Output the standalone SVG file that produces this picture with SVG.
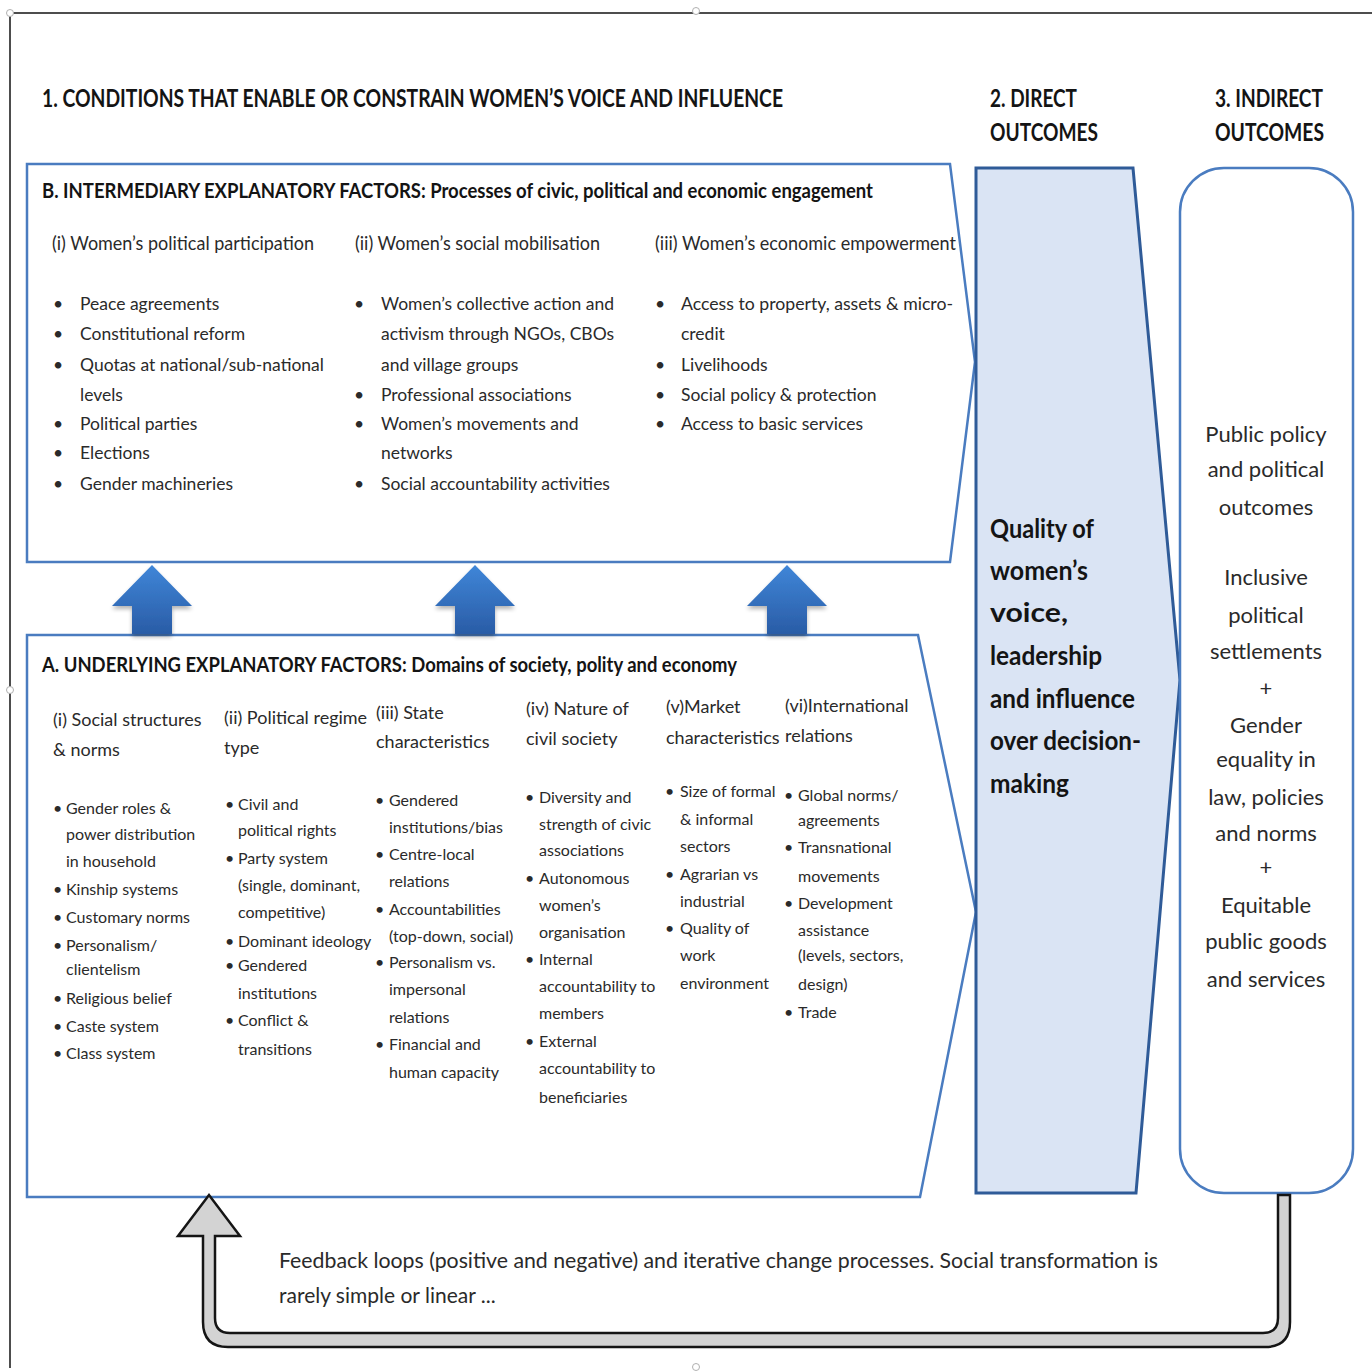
<svg xmlns="http://www.w3.org/2000/svg" width="1372" height="1371" viewBox="0 0 1372 1371">
  <style>
    .t { font-family: Lato, "Open Sans", "Liberation Sans", sans-serif; fill: #2a2a2a; }
    .h { font-weight: 700; fill: #141414; }
    .big { font-size: 24px; }
    .sec { font-size: 21px; }
    .colh { font-size: 19px; }
    .colA { font-size: 18px; }
    .bb { font-size: 17.5px; }
    .ab { font-size: 16px; }
    .dq { font-size: 26px; font-weight: 700; fill: #141414; }
    .io { font-size: 22px; text-anchor: middle; }
    .fb { font-size: 21px; }
    .box { fill: #ffffff; stroke: #4a7cc0; stroke-width: 2.5; stroke-linejoin: miter; }
    .frame { stroke: #4d4d4d; stroke-width: 2; fill: none; }
    .handle { fill: #ffffff; stroke: #b0b0b0; stroke-width: 1; }
  </style>
  <defs>
    <linearGradient id="upGrad" x1="0" y1="0" x2="0" y2="1">
      <stop offset="0" stop-color="#3f86d8"/>
      <stop offset="1" stop-color="#2a5ca6"/>
    </linearGradient>
    <filter id="soft" x="-20%" y="-20%" width="140%" height="160%">
      <feGaussianBlur in="SourceAlpha" stdDeviation="2"/>
      <feOffset dy="3"/>
      <feComponentTransfer><feFuncA type="linear" slope="0.3"/></feComponentTransfer>
      <feMerge><feMergeNode/><feMergeNode in="SourceGraphic"/></feMerge>
    </filter>
  </defs>

  <rect width="1372" height="1371" fill="#ffffff"/>

  <!-- page frame with selection handles -->
  <g id="frame">
    <line class="frame" x1="8" y1="13" x2="1372" y2="13"/>
    <line class="frame" x1="10" y1="13" x2="10" y2="1368"/>
    <circle class="handle" cx="10" cy="13" r="3.5"/>
    <circle class="handle" cx="696" cy="11" r="3.5"/>
    <circle class="handle" cx="10" cy="690" r="3.5"/>
    <circle class="handle" cx="696" cy="1367" r="3.5"/>
  </g>

  <!-- column headings -->
  <g id="headings">
    <text class="t h big" x="42" y="107" textLength="741" lengthAdjust="spacingAndGlyphs">1. CONDITIONS THAT ENABLE OR CONSTRAIN WOMEN’S VOICE AND INFLUENCE</text>
    <text class="t h big" x="990" y="107" textLength="87" lengthAdjust="spacingAndGlyphs">2. DIRECT</text>
    <text class="t h big" x="990" y="141" textLength="108" lengthAdjust="spacingAndGlyphs">OUTCOMES</text>
    <text class="t h big" x="1215" y="107" textLength="108" lengthAdjust="spacingAndGlyphs">3. INDIRECT</text>
    <text class="t h big" x="1215" y="141" textLength="109" lengthAdjust="spacingAndGlyphs">OUTCOMES</text>
  </g>

  <!-- B: intermediary explanatory factors -->
  <g id="box-b">
    <path class="box" d="M27 164 L950 164 L975 362 L950 562 L27 562 Z"/>
    <text class="t h sec" x="42" y="198" textLength="831" lengthAdjust="spacingAndGlyphs">B. INTERMEDIARY EXPLANATORY FACTORS: Processes of civic, political and economic engagement</text>
    <text class="t colh" x="52" y="250" textLength="262" lengthAdjust="spacingAndGlyphs">(i) Women’s political participation</text>
    <text class="t colh" x="355" y="250" textLength="245" lengthAdjust="spacingAndGlyphs">(ii) Women’s social mobilisation</text>
    <text class="t colh" x="655" y="250" textLength="301" lengthAdjust="spacingAndGlyphs">(iii) Women’s economic empowerment</text>

    <g class="t bb">
      <text x="53" y="310">•</text><text x="80" y="310">Peace agreements</text>
      <text x="53" y="340">•</text><text x="80" y="340">Constitutional reform</text>
      <text x="53" y="371">•</text><text x="80" y="371">Quotas at national/sub-national</text>
      <text x="80" y="401">levels</text>
      <text x="53" y="430">•</text><text x="80" y="430">Political parties</text>
      <text x="53" y="459">•</text><text x="80" y="459">Elections</text>
      <text x="53" y="490">•</text><text x="80" y="490">Gender machineries</text>

      <text x="354" y="310">•</text><text x="381" y="310">Women’s collective action and</text>
      <text x="381" y="340">activism through NGOs, CBOs</text>
      <text x="381" y="371">and village groups</text>
      <text x="354" y="401">•</text><text x="381" y="401">Professional associations</text>
      <text x="354" y="430">•</text><text x="381" y="430">Women’s movements and</text>
      <text x="381" y="459">networks</text>
      <text x="354" y="490">•</text><text x="381" y="490">Social accountability activities</text>

      <text x="655" y="310">•</text><text x="681" y="310" textLength="272" lengthAdjust="spacingAndGlyphs">Access to property, assets &amp; micro-</text>
      <text x="681" y="340">credit</text>
      <text x="655" y="371">•</text><text x="681" y="371">Livelihoods</text>
      <text x="655" y="401">•</text><text x="681" y="401">Social policy &amp; protection</text>
      <text x="655" y="430">•</text><text x="681" y="430">Access to basic services</text>
    </g>
  </g>

  <!-- A: underlying explanatory factors -->
  <g id="box-a">
    <path class="box" d="M27 635 L918 635 L976 912 L920 1197 L27 1197 Z"/>
    <text class="t h sec" x="42" y="672" textLength="695" lengthAdjust="spacingAndGlyphs">A. UNDERLYING EXPLANATORY FACTORS: Domains of society, polity and economy</text>

    <g class="t colA">
      <text x="53" y="726">(i) Social structures</text>
      <text x="53" y="756">&amp; norms</text>
      <text x="224" y="724">(ii) Political regime</text>
      <text x="224" y="754">type</text>
      <text x="376" y="719">(iii) State</text>
      <text x="376" y="748">characteristics</text>
      <text x="526" y="715">(iv) Nature of</text>
      <text x="526" y="745">civil society</text>
      <text x="666" y="713">(v)Market</text>
      <text x="666" y="744">characteristics</text>
      <text x="785" y="712">(vi)International</text>
      <text x="785" y="742">relations</text>
    </g>

    <g class="t ab">
      <text x="53" y="814">•</text><text x="66" y="814">Gender roles &amp;</text>
      <text x="66" y="840">power distribution</text>
      <text x="66" y="867">in household</text>
      <text x="53" y="895">•</text><text x="66" y="895">Kinship systems</text>
      <text x="53" y="923">•</text><text x="66" y="923">Customary norms</text>
      <text x="53" y="951">•</text><text x="66" y="951">Personalism/</text>
      <text x="66" y="975">clientelism</text>
      <text x="53" y="1004">•</text><text x="66" y="1004">Religious belief</text>
      <text x="53" y="1032">•</text><text x="66" y="1032">Caste system</text>
      <text x="53" y="1059">•</text><text x="66" y="1059">Class system</text>

      <text x="225" y="810">•</text><text x="238" y="810">Civil and</text>
      <text x="238" y="836">political rights</text>
      <text x="225" y="864">•</text><text x="238" y="864">Party system</text>
      <text x="238" y="891">(single, dominant,</text>
      <text x="238" y="918">competitive)</text>
      <text x="225" y="947">•</text><text x="238" y="947">Dominant ideology</text>
      <text x="225" y="971">•</text><text x="238" y="971">Gendered</text>
      <text x="238" y="999">institutions</text>
      <text x="225" y="1026">•</text><text x="238" y="1026">Conflict &amp;</text>
      <text x="238" y="1055">transitions</text>

      <text x="375" y="806">•</text><text x="389" y="806">Gendered</text>
      <text x="389" y="833">institutions/bias</text>
      <text x="375" y="860">•</text><text x="389" y="860">Centre-local</text>
      <text x="389" y="887">relations</text>
      <text x="375" y="915">•</text><text x="389" y="915">Accountabilities</text>
      <text x="389" y="942">(top-down, social)</text>
      <text x="375" y="968">•</text><text x="389" y="968">Personalism vs.</text>
      <text x="389" y="995">impersonal</text>
      <text x="389" y="1023">relations</text>
      <text x="375" y="1050">•</text><text x="389" y="1050">Financial and</text>
      <text x="389" y="1078">human capacity</text>

      <text x="525" y="803">•</text><text x="539" y="803">Diversity and</text>
      <text x="539" y="830">strength of civic</text>
      <text x="539" y="856">associations</text>
      <text x="525" y="884">•</text><text x="539" y="884">Autonomous</text>
      <text x="539" y="911">women’s</text>
      <text x="539" y="938">organisation</text>
      <text x="525" y="965">•</text><text x="539" y="965">Internal</text>
      <text x="539" y="992">accountability to</text>
      <text x="539" y="1019">members</text>
      <text x="525" y="1047">•</text><text x="539" y="1047">External</text>
      <text x="539" y="1074">accountability to</text>
      <text x="539" y="1103">beneficiaries</text>

      <text x="665" y="797">•</text><text x="680" y="797">Size of formal</text>
      <text x="680" y="825">&amp; informal</text>
      <text x="680" y="852">sectors</text>
      <text x="665" y="880">•</text><text x="680" y="880">Agrarian vs</text>
      <text x="680" y="907">industrial</text>
      <text x="665" y="934">•</text><text x="680" y="934">Quality of</text>
      <text x="680" y="961">work</text>
      <text x="680" y="989">environment</text>

      <text x="784" y="801">•</text><text x="798" y="801">Global norms/</text>
      <text x="798" y="826">agreements</text>
      <text x="784" y="853">•</text><text x="798" y="853">Transnational</text>
      <text x="798" y="882">movements</text>
      <text x="784" y="909">•</text><text x="798" y="909">Development</text>
      <text x="798" y="936">assistance</text>
      <text x="798" y="961">(levels, sectors,</text>
      <text x="798" y="990">design)</text>
      <text x="784" y="1018">•</text><text x="798" y="1018">Trade</text>
    </g>
  </g>

  <!-- 2: direct outcomes -->
  <g id="direct-outcomes">
    <path d="M976 168 L1133 168 L1180 680 L1136 1193 L976 1193 Z" fill="#dae4f4" stroke="#2f5b98" stroke-width="3" stroke-linejoin="miter"/>
    <text class="t dq" x="990" y="538" textLength="104" lengthAdjust="spacingAndGlyphs">Quality of</text>
    <text class="t dq" x="990" y="580" textLength="98" lengthAdjust="spacingAndGlyphs">women’s</text>
    <text class="t dq" x="990" y="622" textLength="78" lengthAdjust="spacingAndGlyphs">voice,</text>
    <text class="t dq" x="990" y="665" textLength="112" lengthAdjust="spacingAndGlyphs">leadership</text>
    <text class="t dq" x="990" y="708" textLength="145" lengthAdjust="spacingAndGlyphs">and influence</text>
    <text class="t dq" x="990" y="750" textLength="151" lengthAdjust="spacingAndGlyphs">over decision-</text>
    <text class="t dq" x="990" y="793" textLength="79" lengthAdjust="spacingAndGlyphs">making</text>
  </g>

  <!-- 3: indirect outcomes -->
  <g id="indirect-outcomes">
    <rect x="1180" y="168" width="173" height="1025" rx="44" ry="44" fill="#ffffff" stroke="#4a7cc0" stroke-width="2.5"/>
    <g class="t io">
      <text x="1266" y="442">Public policy</text>
      <text x="1266" y="477">and political</text>
      <text x="1266" y="515">outcomes</text>
      <text x="1266" y="585">Inclusive</text>
      <text x="1266" y="623">political</text>
      <text x="1266" y="659">settlements</text>
      <text x="1266" y="696">+</text>
      <text x="1266" y="733">Gender</text>
      <text x="1266" y="767">equality in</text>
      <text x="1266" y="805">law, policies</text>
      <text x="1266" y="841">and norms</text>
      <text x="1266" y="875">+</text>
      <text x="1266" y="913">Equitable</text>
      <text x="1266" y="949">public goods</text>
      <text x="1266" y="987">and services</text>
    </g>
  </g>

  <!-- connectors: upward block arrows A to B, and the feedback loop -->
  <g id="connectors">
    <g fill="url(#upGrad)" filter="url(#soft)">
      <path d="M152 565 L192 606 L172 606 L172 634 L132 634 L132 606 L112 606 Z"/>
      <path d="M475 565 L515 606 L495 606 L495 634 L455 634 L455 606 L435 606 Z"/>
      <path d="M787 565 L827 606 L807 606 L807 634 L767 634 L767 606 L747 606 Z"/>
    </g>
    <path d="M1278 1195 L1278 1318 Q1278 1333 1263 1333 L230 1333 Q215 1333 215 1318 L215 1236 L240 1236 L209 1195 L178 1236 L203 1236 L203 1322 Q203 1347 228 1347 L1265 1347 Q1290 1347 1290 1322 L1290 1195 Z" fill="#d3d3d3" stroke="#151515" stroke-width="2.5" stroke-linejoin="miter"/>
  </g>

  <g id="feedback-label" class="t fb">
    <text x="279" y="1268" textLength="879" lengthAdjust="spacingAndGlyphs">Feedback loops (positive and negative) and iterative change processes. Social transformation is</text>
    <text x="279" y="1303">rarely simple or linear ...</text>
  </g>
</svg>
